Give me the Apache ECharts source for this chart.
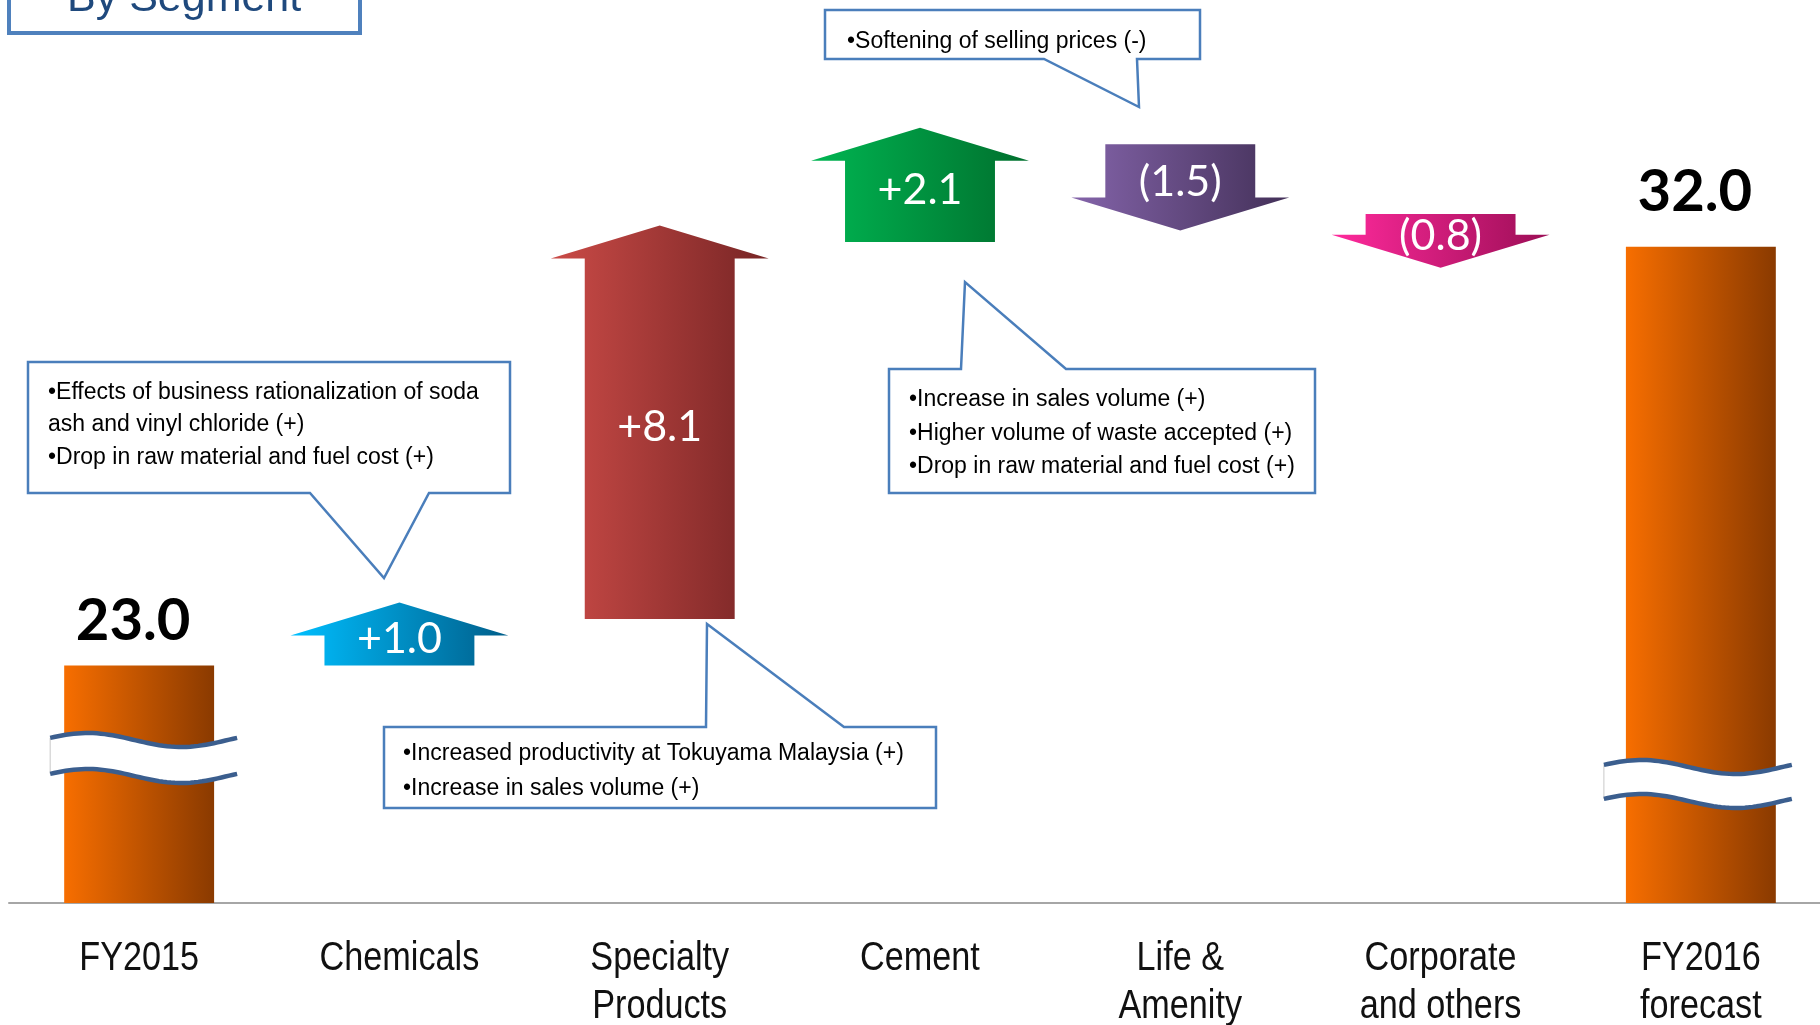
<!DOCTYPE html>
<html>
<head>
<meta charset="utf-8">
<script src="https://cdn.jsdelivr.net/npm/echarts@6/dist/echarts.min.js"></script>
<style>
  html, body { margin: 0; padding: 0; background: #ffffff; }
  #chart { width: 1820px; height: 1025px; }
</style>
</head>
<body>
<div id="chart"></div>
<script>
// Operating income bridge, FY2015 -> FY2016 forecast, by segment
const categories = ['FY2015', 'Chemicals', 'Specialty\nProducts', 'Cement', 'Life &\nAmenity', 'Corporate\nand others', 'FY2016\nforecast'];
const startTotal = 23.0;
const endTotal = 32.0;
const segmentChanges = [1.0, 8.1, 2.1, -1.5, -0.8];

const noteChemicals = ['•Effects of business rationalization of soda', 'ash and vinyl chloride (+)', '•Drop in raw material and fuel cost (+)'];
const noteSpecialty = ['•Increased productivity at Tokuyama Malaysia (+)', '•Increase in sales volume (+)'];
const noteCement = ['•Increase in sales volume (+)', '•Higher volume of waste accepted (+)', '•Drop in raw material and fuel cost (+)'];
const noteLife = ['•Softening of selling prices (-)'];
const titleText = 'By Segment';

// gradient stops (left -> right) for each segment arrow
const arrowColors = [
  ['#00BFFF', '#005E8A'],
  ['#CB4B47', '#772525'],
  ['#00B652', '#006F2D'],
  ['#8464AA', '#433058'],
  ['#FF2A9C', '#9C0E56']
];
const totalColors = ['#F76E00', '#8A3A00'];

// value axis is cut off below this level (shown by the break marks)
const axisFloor = 17.9;
const axisCeil = 37.3;

// running level for each arrow
let level = startTotal;
const arrowData = segmentChanges.map(function (d, i) {
  const from = level;
  level = Math.round((level + d) * 10) / 10;
  return [i + 1, from, level, d];
});
const totalData = [[0, startTotal], [categories.length - 1, endTotal]];
const labelData = categories.map(function (c, i) { return [i, axisFloor]; });

function fmtChange(d) {
  return d >= 0 ? '+' + d.toFixed(1) : '(' + Math.abs(d).toFixed(1) + ')';
}

function hGrad(c) {
  return new echarts.graphic.LinearGradient(0, 0, 1, 0, [
    { offset: 0, color: c[0] }, { offset: 1, color: c[1] }
  ]);
}

// arrow body runs from the previous level; the head straddles the new level
function renderArrow(params, api) {
  const idx = api.value(0), s = api.value(1), e = api.value(2), d = api.value(3);
  const a = api.coord([idx, s]);
  const b = api.coord([idx, e]);
  const cx = a[0];
  const half = api.size([1, 0])[0] * 0.576 / 2;
  const over = 34, headH = 33;
  const dir = e > s ? -1 : 1;
  const y0 = a[1];
  const yb = b[1] - dir * headH / 2;
  const yt = b[1] + dir * headH / 2;
  const pts = [
    [cx - half, y0], [cx - half, yb], [cx - half - over, yb], [cx, yt],
    [cx + half + over, yb], [cx + half, yb], [cx + half, y0]
  ];
  return {
    type: 'group',
    children: [
      { type: 'polygon', shape: { points: pts }, style: { fill: hGrad(arrowColors[params.dataIndex]) } },
      {
        type: 'text',
        style: {
          text: fmtChange(d), x: cx, y: (y0 + yt) / 2 - dir * 5,
          align: 'center', verticalAlign: 'middle', fill: '#ffffff',
          fontSize: 43, fontFamily: 'Lato, "Open Sans", sans-serif'
        }
      }
    ]
  };
}

function wavePoints(xL, xR, yc) {
  const pts = [];
  for (let k = 0; k <= 48; k++) {
    const t = k / 48;
    pts.push([xL + t * (xR - xL), yc - 7 * Math.cos(2 * Math.PI * (t - 0.2))]);
  }
  return pts;
}

function renderTotal(params, api) {
  const idx = api.value(0), v = api.value(1);
  const top = api.coord([idx, v]);
  const base = api.coord([idx, axisFloor]);
  const cx = top[0];
  const half = api.size([1, 0])[0] * 0.576 / 2;
  const first = params.dataIndex === 0;
  // break band across the bar
  const lift = first ? 163 : 136;
  const gap = first ? 36 : 34;
  const xL = cx - half - (first ? 14 : 22), xR = cx + half + (first ? 23 : 16);
  const upper = wavePoints(xL, xR, base[1] - lift);
  const lower = wavePoints(xL, xR, base[1] - lift + gap);
  const band = upper.concat(lower.slice().reverse());
  return {
    type: 'group',
    children: [
      {
        type: 'rect',
        shape: { x: cx - half, y: top[1], width: half * 2, height: base[1] - top[1] },
        style: { fill: hGrad(totalColors) }
      },
      { type: 'polygon', shape: { points: band }, style: { fill: '#ffffff' } },
      { type: 'line', shape: { x1: xL, y1: upper[0][1], x2: xL, y2: lower[0][1] }, style: { stroke: '#C9C9C9', lineWidth: 1 } },
      { type: 'polyline', shape: { points: upper }, style: { stroke: '#3B5E8E', lineWidth: 4.5, fill: null } },
      { type: 'polyline', shape: { points: lower }, style: { stroke: '#3B5E8E', lineWidth: 4.5, fill: null } },
      {
        type: 'text',
        style: {
          text: v.toFixed(1), x: cx - 6, y: top[1] - (first ? 44 : 54),
          align: 'center', verticalAlign: 'middle', fill: '#000000',
          fontSize: 58, fontWeight: 'bold', fontFamily: 'Lato, "Open Sans", sans-serif'
        }
      }
    ]
  };
}

// category names under the axis, in a condensed sans face
function renderCategory(params, api) {
  const idx = api.value(0);
  const p = api.coord([idx, axisFloor]);
  return {
    type: 'text',
    x: p[0], y: p[1] + 31.5, scaleX: 0.855,
    style: {
      text: categories[idx], x: 0, y: 0, align: 'center', verticalAlign: 'top',
      fontSize: 40, lineHeight: 48, fill: '#111111',
      fontFamily: '"Liberation Sans", Arial, sans-serif'
    }
  };
}

// speech-bubble outline: box plus a pointer wedge
function callout(points, lines, tx, ty, lh) {
  return [
    {
      type: 'polygon', z: 10,
      shape: { points: points },
      style: { fill: '#ffffff', stroke: '#4A7EBB', lineWidth: 2.5 }
    },
    {
      type: 'text', z: 11, x: tx, y: ty,
      style: {
        text: lines.join('\n'), fill: '#000000', fontSize: 23, lineHeight: lh,
        fontFamily: '"Liberation Sans", Arial, sans-serif', align: 'left', verticalAlign: 'top'
      }
    }
  ];
}

const graphics = [].concat(
  [
    { type: 'rect', z: 10, shape: { x: 9, y: -30, width: 351, height: 63 }, style: { fill: '#ffffff', stroke: '#4F81BD', lineWidth: 4 } },
    {
      type: 'text', z: 11, x: 67, y: 21,
      style: { text: titleText, fill: '#1F497D', fontSize: 43, fontFamily: '"Liberation Sans", Arial, sans-serif', verticalAlign: 'bottom' }
    }
  ],
  callout([[28, 362], [510, 362], [510, 493], [429, 493], [384, 578], [310, 493], [28, 493]], noteChemicals, 48, 376, 32.5),
  callout([[384, 727], [706, 727], [707, 624], [844, 727], [936, 727], [936, 808], [384, 808]], noteSpecialty, 403, 736.5, 35),
  callout([[889, 369], [961, 369], [965, 282], [1066, 369], [1315, 369], [1315, 493], [889, 493]], noteCement, 909, 383, 33.5),
  callout([[825, 10], [1200, 10], [1200, 59], [1137, 59], [1139, 107], [1044, 59], [825, 59]], noteLife, 847, 26, 32)
);

const chart = echarts.init(document.getElementById('chart'), null, { renderer: 'canvas' });
chart.setOption({
  backgroundColor: '#ffffff',
  animation: false,
  grid: { left: 9, width: 1822, top: 0, bottom: 122, containLabel: false, outerBoundsMode: 'none' },
  xAxis: {
    type: 'category',
    data: categories,
    axisLine: { show: true, lineStyle: { color: '#A6A6A6', width: 2 } },
    axisTick: { show: false },
    axisLabel: { show: false },
    splitLine: { show: false }
  },
  yAxis: { type: 'value', min: axisFloor, max: axisCeil, show: false },
  series: [
    {
      type: 'custom', renderItem: renderTotal, data: totalData,
      encode: { x: 0, y: 1 }, clip: false
    },
    {
      type: 'custom', renderItem: renderArrow, data: arrowData,
      encode: { x: 0, y: [1, 2] }, clip: false
    },
    {
      type: 'custom', renderItem: renderCategory, data: labelData,
      encode: { x: 0, y: 1 }, clip: false, silent: true
    }
  ],
  graphic: graphics
});
</script>
</body>
</html>
